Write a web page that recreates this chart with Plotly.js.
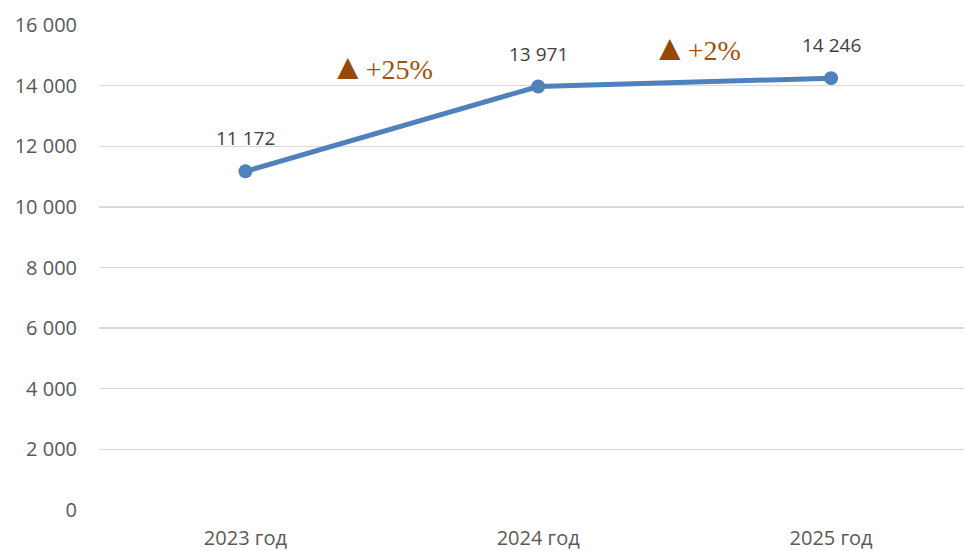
<!DOCTYPE html>
<html><head><meta charset="utf-8">
<script src="https://cdn.plot.ly/plotly-3.0.1.min.js"></script>
<style>html,body{margin:0;padding:0;background:#fff;overflow:hidden}</style>
</head><body><div id="chart" style="width:964px;height:551px"></div>
<script>
const categories = ["2023 год", "2024 год", "2025 год"];
const values = [11172, 13971, 14246];
const yTicks = [0, 2000, 4000, 6000, 8000, 10000, 12000, 14000, 16000];

const fmt = v => String(v).replace(/\B(?=(\d{3})+(?!\d))/g, " ");

const trace = {
  x: categories, y: values, type: "scatter", mode: "lines+markers",
  line: {color: "#4f81bd", width: 5},
  marker: {color: "#4f81bd", size: 14},
  hoverinfo: "skip", cliponaxis: false
};

const annotations = [];
values.forEach((v, i) => {
  annotations.push({x: categories[i], y: v, xref: "x", yref: "y", text: fmt(v),
    showarrow: false, yshift: 33, font: {family: "Open Sans, Noto Sans, sans-serif", size: 19, color: "#404040"}});
});
const growthPos = [{x: 0.465, y: 14614}, {x: 1.54, y: 15241}];
for (let i = 1; i < values.length; i++) {
  const pct = Math.round((values[i] / values[i-1] - 1) * 100);
  annotations.push({x: growthPos[i-1].x, y: growthPos[i-1].y, xref: "x", yref: "y",
    text: '<span style="color:#974706;font-size:36px">▲</span>+' + pct + '%', showarrow: false,
    font: {family: "Liberation Serif, Times New Roman, serif", size: 28, color: "#a0520f"}});
}

const layout = {
  width: 964, height: 551,
  margin: {l: 98.5, r: 0, t: 25, b: 41},
  paper_bgcolor: "#fff", plot_bgcolor: "#fff",
  showlegend: false,
  xaxis: {type: "category", range: [-0.5, 2.454], showgrid: false, zeroline: false, showline: false,
    ticks: "", ticklabelstandoff: 14,
    tickfont: {family: "Open Sans, Noto Sans, sans-serif", size: 20, color: "#595959"}, fixedrange: true},
  yaxis: {range: [0, 16000], tickvals: yTicks, ticktext: yTicks.map(fmt), showgrid: true, gridcolor: "#d9d9d9", gridwidth: 1.3,
    zeroline: false, showline: false, ticks: "", ticklabelstandoff: 21,
    tickfont: {family: "Open Sans, Noto Sans, sans-serif", size: 20, color: "#595959"}, fixedrange: true},
  annotations: annotations
};
Plotly.newPlot("chart", [trace], layout, {displayModeBar: false, staticPlot: true});
</script></body></html>
